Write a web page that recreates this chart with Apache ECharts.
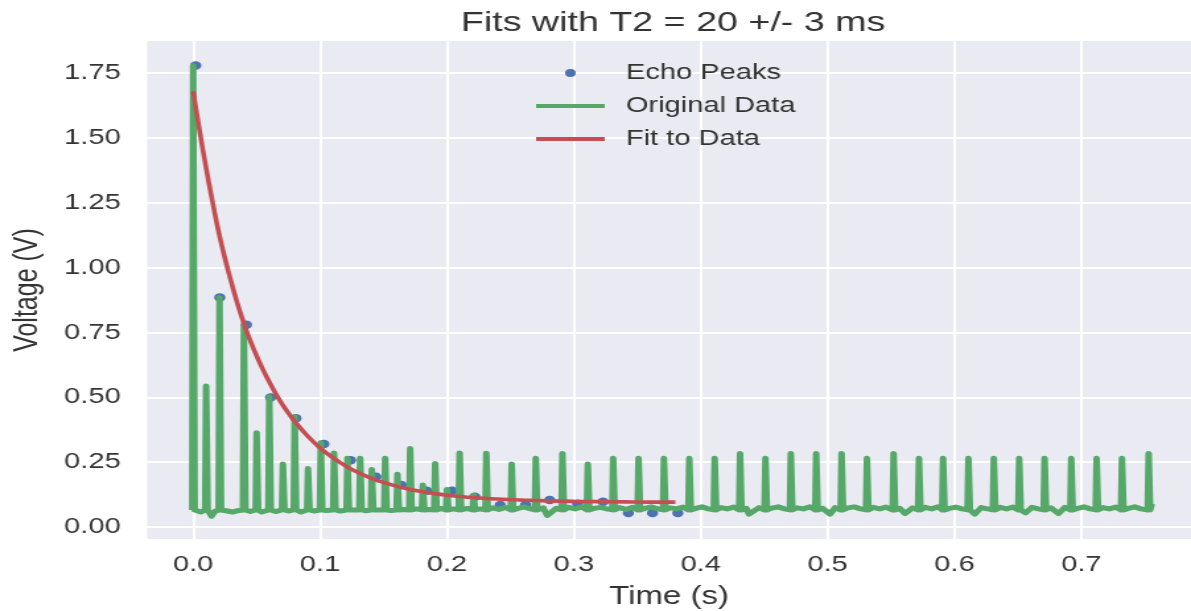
<!DOCTYPE html>
<html>
<head>
<meta charset="utf-8">
<script src="https://cdn.jsdelivr.net/npm/echarts@6/dist/echarts.min.js"></script>
<style>
  html, body { margin: 0; padding: 0; background: #fff; overflow: hidden; }
  /* the reference picture is stretched sideways, so the chart is drawn narrow and widened */
  #chart { width: 902px; height: 611px; transform: scaleX(1.3204); transform-origin: 0 0; }
</style>
</head>
<body>
<div id="chart"></div>
<script>
// echo peaks (blue dots)
const peakT = [0.002, 0.021, 0.042, 0.061, 0.081, 0.103, 0.124, 0.144, 0.164, 0.184,
  0.204, 0.222, 0.242, 0.262, 0.281, 0.303, 0.323, 0.343, 0.362, 0.382];
const peakV = [1.78, 0.885, 0.78, 0.50, 0.42, 0.32, 0.258, 0.194, 0.162, 0.14,
  0.14, 0.117, 0.085, 0.085, 0.104, 0.09, 0.098, 0.054, 0.054, 0.054];

// original signal: spike tops
const spikeT = [0.0, 0.0102, 0.0208, 0.040, 0.050, 0.060, 0.0707, 0.080, 0.0905, 0.1006,
  0.111, 0.1216, 0.1316, 0.1408, 0.1513, 0.161, 0.171, 0.181, 0.1907, 0.200,
  0.210, 0.221, 0.231, 0.251, 0.270, 0.291, 0.311, 0.331, 0.351, 0.371,
  0.391, 0.411, 0.431, 0.451, 0.471, 0.491, 0.511, 0.531, 0.552, 0.572,
  0.591, 0.611, 0.631, 0.651, 0.671, 0.692, 0.712, 0.732, 0.753];
const spikeV = [1.78, 0.544, 0.885, 0.779, 0.364, 0.502, 0.243, 0.425, 0.226, 0.325,
  0.286, 0.265, 0.265, 0.222, 0.265, 0.204, 0.303, 0.162, 0.245, 0.145,
  0.286, 0.123, 0.285, 0.243, 0.265, 0.284, 0.243, 0.265, 0.265, 0.265,
  0.265, 0.265, 0.284, 0.265, 0.284, 0.284, 0.284, 0.265, 0.284, 0.265,
  0.265, 0.265, 0.265, 0.265, 0.265, 0.265, 0.265, 0.265, 0.284];
const spikeFoot = 0.066;

// original signal: noisy floor between spikes
const floorPts = [
  [0.003, 0.062], [0.006, 0.058], [0.0145, 0.042], [0.017, 0.06],
  [0.027, 0.062], [0.031, 0.058], [0.035, 0.063],
  [0.045, 0.06], [0.054, 0.058], [0.056, 0.062],
  [0.065, 0.06], [0.075, 0.062], [0.085, 0.058], [0.095, 0.062],
  [0.105, 0.064], [0.116, 0.062], [0.126, 0.066], [0.136, 0.063], [0.146, 0.066],
  [0.156, 0.064], [0.166, 0.068], [0.176, 0.07], [0.186, 0.068],
  [0.196, 0.072], [0.205, 0.07], [0.216, 0.072], [0.226, 0.07],
  [0.236, 0.074], [0.241, 0.068], [0.246, 0.076],
  [0.256, 0.072], [0.261, 0.078], [0.266, 0.07],
  [0.276, 0.074], [0.279, 0.045], [0.286, 0.072],
  [0.296, 0.076], [0.301, 0.07], [0.306, 0.078],
  [0.316, 0.072], [0.321, 0.076], [0.326, 0.07],
  [0.336, 0.075], [0.341, 0.068], [0.346, 0.076],
  [0.356, 0.072], [0.361, 0.078], [0.366, 0.07],
  [0.376, 0.074], [0.381, 0.07], [0.386, 0.077],
  [0.396, 0.072], [0.401, 0.078], [0.406, 0.07],
  [0.416, 0.075], [0.421, 0.07], [0.426, 0.077],
  [0.436, 0.072], [0.438, 0.05], [0.446, 0.075],
  [0.456, 0.073], [0.461, 0.078], [0.466, 0.07],
  [0.476, 0.074], [0.481, 0.07], [0.486, 0.078],
  [0.496, 0.072], [0.502, 0.05], [0.506, 0.075],
  [0.516, 0.074], [0.521, 0.078], [0.526, 0.07],
  [0.536, 0.076], [0.541, 0.07], [0.546, 0.077],
  [0.557, 0.072], [0.561, 0.052], [0.567, 0.074],
  [0.577, 0.076], [0.582, 0.07], [0.587, 0.078],
  [0.596, 0.072], [0.601, 0.077], [0.606, 0.07],
  [0.616, 0.05], [0.621, 0.075], [0.626, 0.07],
  [0.636, 0.076], [0.641, 0.07], [0.646, 0.077],
  [0.656, 0.055], [0.661, 0.076], [0.666, 0.07],
  [0.676, 0.074], [0.682, 0.052], [0.687, 0.076],
  [0.697, 0.072], [0.702, 0.078], [0.707, 0.07],
  [0.717, 0.075], [0.722, 0.07], [0.727, 0.077],
  [0.737, 0.072], [0.742, 0.078], [0.747, 0.07],
  [0.7555, 0.09]
];

// exponential fit
const fitT = [0, 0.005, 0.01, 0.015, 0.02, 0.025, 0.03, 0.035, 0.04, 0.045, 0.05,
  0.055, 0.06, 0.065, 0.07, 0.075, 0.08, 0.09, 0.10,
  0.11, 0.12, 0.13, 0.14, 0.15, 0.16, 0.17, 0.18, 0.19, 0.20,
  0.22, 0.24, 0.26, 0.28, 0.30, 0.32, 0.34, 0.36, 0.38];
const fitV = [1.68, 1.53, 1.39, 1.26, 1.14, 1.037, 0.945, 0.86, 0.785, 0.718, 0.66,
  0.607, 0.56, 0.515, 0.475, 0.44, 0.408, 0.352, 0.305,
  0.268, 0.236, 0.21, 0.189, 0.172, 0.158, 0.146, 0.137, 0.129, 0.123,
  0.114, 0.108, 0.104, 0.101, 0.099, 0.098, 0.097, 0.096, 0.096];

const xTicks = [0, 0.1, 0.2, 0.3, 0.4, 0.5, 0.6, 0.7];
const yTicks = [0, 0.25, 0.5, 0.75, 1.0, 1.25, 1.5, 1.75];

const font = "'Liberation Sans', Arial, sans-serif";
const textColor = '#333';

// build the green trace: each spike gets a narrow foot on both sides
const greenPts = floorPts.slice();
spikeT.forEach((t, i) => {
  greenPts.push([t - 0.0007, spikeFoot], [t, spikeV[i]], [t + 0.0012, spikeFoot]);
});
greenPts.sort((a, b) => a[0] - b[0]);

const chart = echarts.init(document.getElementById('chart'));
chart.setOption({
  animation: false,
  title: {
    text: 'Fits with T2 = 20 +/- 3 ms',
    left: 349, top: 9, padding: 0,
    textStyle: { fontFamily: font, fontSize: 28.5, fontWeight: 'normal', color: textColor }
  },
  legend: {
    orient: 'vertical', left: 404, top: 61, padding: 0,
    itemWidth: 52, itemHeight: 8, itemGap: 9,
    textStyle: { fontFamily: font, fontSize: 22, color: textColor, lineHeight: 24, padding: [0, 0, 0, 11] },
    data: [
      { name: 'Echo Peaks' },
      { name: 'Original Data', itemStyle: { opacity: 0 }, lineStyle: { width: 4 } },
      { name: 'Fit to Data', itemStyle: { opacity: 0 }, lineStyle: { width: 4 } }
    ]
  },
  grid: {
    left: 111.4, right: 0, top: 41, bottom: 72,
    outerBoundsMode: 'none', containLabel: false,
    show: true, backgroundColor: '#EAEAF2', borderWidth: 0
  },
  xAxis: {
    type: 'value', min: -0.0363, max: 0.7864,
    name: 'Time (s)', nameLocation: 'middle', nameGap: 46,
    nameTextStyle: { fontFamily: font, fontSize: 25, color: textColor },
    axisLine: { show: false },
    axisTick: { show: false, customValues: xTicks },
    axisLabel: { customValues: xTicks, margin: 15, fontFamily: font, fontSize: 22, color: textColor,
      formatter: v => v.toFixed(1) },
    splitLine: { show: true, lineStyle: { color: '#fff', width: 2 } }
  },
  yAxis: {
    type: 'value', min: -0.046, max: 1.874,
    name: 'Voltage (V)', nameLocation: 'middle', nameGap: 78, nameRotate: 90,
    nameTextStyle: { fontFamily: font, fontSize: 25, color: textColor },
    axisLine: { show: false },
    axisTick: { show: false, customValues: yTicks },
    axisLabel: { customValues: yTicks, margin: 20, fontFamily: font, fontSize: 22, color: textColor,
      formatter: v => v.toFixed(2) },
    splitLine: { show: true, lineStyle: { color: '#fff', width: 2 } }
  },
  series: [
    {
      name: 'Echo Peaks', type: 'scatter', symbol: 'circle', symbolSize: 8.5,
      itemStyle: { color: '#4C72B0', opacity: 1 },
      data: peakT.map((t, i) => [t, peakV[i]])
    },
    {
      name: 'Original Data', type: 'line', symbol: 'none', showSymbol: false,
      lineStyle: { color: '#55A868', width: 5, join: 'round' },
      itemStyle: { color: '#55A868' },
      data: greenPts
    },
    {
      name: 'Fit to Data', type: 'line', symbol: 'none', showSymbol: false,
      smooth: 0.4,
      lineStyle: { color: '#C44E52', width: 3.6 },
      itemStyle: { color: '#C44E52' },
      data: fitT.map((t, i) => [t, fitV[i]])
    }
  ]
});
</script>
</body>
</html>
